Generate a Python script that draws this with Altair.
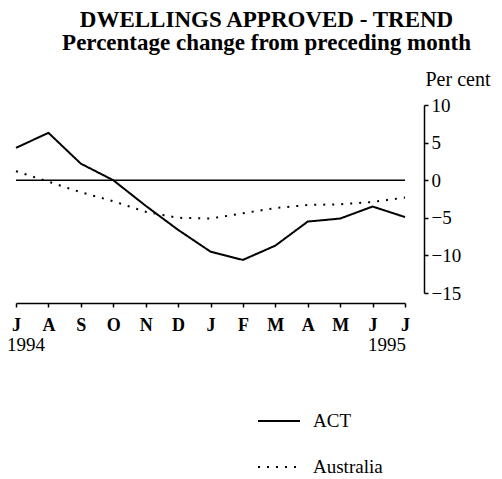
import altair as alt
import pandas as pd

months = ["J", "A", "S", "O", "N", "D", "J", "F", "M", "A", "M", "J", "J"]
act = [4.3, 6.3, 2.2, 0.0, -3.4, -6.6, -9.5, -10.6, -8.7, -5.5, -5.1, -3.5, -4.9]
aus = [1.2, -0.2, -1.6, -2.8, -4.2, -5.0, -5.1, -4.4, -3.7, -3.3, -3.2, -2.9, -2.3]
series_names = ["ACT", "Australia"]
years = ["1994", "1995"]
y_ticks = [-15, -10, -5, 0, 5, 10]

FONT = "Liberation Serif"

rows = []
for i, v in enumerate(act):
    rows.append({"i": i, "value": v, "series": "ACT"})
for i, v in enumerate(aus):
    rows.append({"i": i, "value": v, "series": "Australia"})
df = pd.DataFrame(rows)

label_arr = "[" + ",".join("'%s'" % m for m in months) + "]"

x_scale = alt.Scale(domain=[0, len(months) - 1], nice=False, zero=False)
y_scale = alt.Scale(domain=[-15, 10], nice=False)

x_axis = alt.Axis(values=list(range(len(months))), labelExpr=label_arr + "[datum.value]",
                  title=None, grid=False, offset=10, tickSize=4, tickColor="black",
                  domainColor="black", domainWidth=1.5, tickWidth=1.5,
                  labelFont=FONT, labelFontSize=18, labelFontWeight="bold",
                  labelColor="black", labelPadding=9, labelOverlap=False,
                  labelFlush=False)
y_axis = alt.Axis(orient="right", values=y_ticks, grid=False, offset=19,
                  tickSize=4, tickColor="black", domainColor="black",
                  domainWidth=1.5, tickWidth=1.5,
                  labelFont=FONT, labelFontSize=19, labelColor="black",
                  labelPadding=3, labelAlign="left", labelBaseline="middle",
                  labelOverlap=False, labelFlush=False,
                  title="Per cent", titleAngle=0, titleAlign="left",
                  titleBaseline="middle", titleX=1, titleY=-26,
                  titleFont=FONT, titleFontSize=20, titleFontWeight="normal",
                  titleColor="black")

lines = alt.Chart(df).mark_line(color="black", strokeWidth=2).encode(
    x=alt.X("i:Q", scale=x_scale, axis=x_axis),
    y=alt.Y("value:Q", scale=y_scale, axis=y_axis),
    strokeDash=alt.StrokeDash("series:N",
                              scale=alt.Scale(domain=series_names, range=[[1, 0], [2, 7]]),
                              legend=alt.Legend(orient="none", legendX=241, legendY=294,
                                                title=None, symbolType="stroke",
                                                symbolSize=1764, symbolStrokeWidth=2,
                                                symbolStrokeColor="black",
                                                labelFont=FONT, labelFontSize=19,
                                                labelColor="black", labelOffset=12,
                                                rowPadding=14, padding=0)),
    detail="series:N",
)

zero = alt.Chart(pd.DataFrame({"z": [0]})).mark_rule(color="black", strokeWidth=1.5).encode(
    y=alt.Y("z:Q", scale=y_scale, axis=y_axis)
)

yr_df = pd.DataFrame({"i": [0, len(months) - 1], "t": years})
yr1 = alt.Chart(yr_df.iloc[[0]]).mark_text(font=FONT, fontSize=19, align="left",
                                            baseline="middle", dx=-9, color="black").encode(
    x=alt.X("i:Q", scale=x_scale, axis=x_axis), y=alt.value(240), text="t:N")
yr2 = alt.Chart(yr_df.iloc[[1]]).mark_text(font=FONT, fontSize=19, align="right",
                                            baseline="middle", dx=1, color="black").encode(
    x=alt.X("i:Q", scale=x_scale, axis=x_axis), y=alt.value(240), text="t:N")

chart = alt.layer(lines, zero, yr1, yr2).properties(
    width=389, height=188,
    title=alt.TitleParams(["DWELLINGS APPROVED - TREND", "Percentage change from preceding month"],
                          font=FONT, fontSize=23, fontWeight="bold", color="black",
                          anchor="middle", dx=56, offset=14, lineHeight=23),
    autosize=alt.AutoSizeParams(type="none"),
    padding={"left": 8, "top": 97, "right": 89, "bottom": 190},
).configure_view(stroke=None).configure_axis(labelOverlap=False, labelFlush=False)

chart.save("out.html", embed_options={"renderer": "svg", "actions": False})
